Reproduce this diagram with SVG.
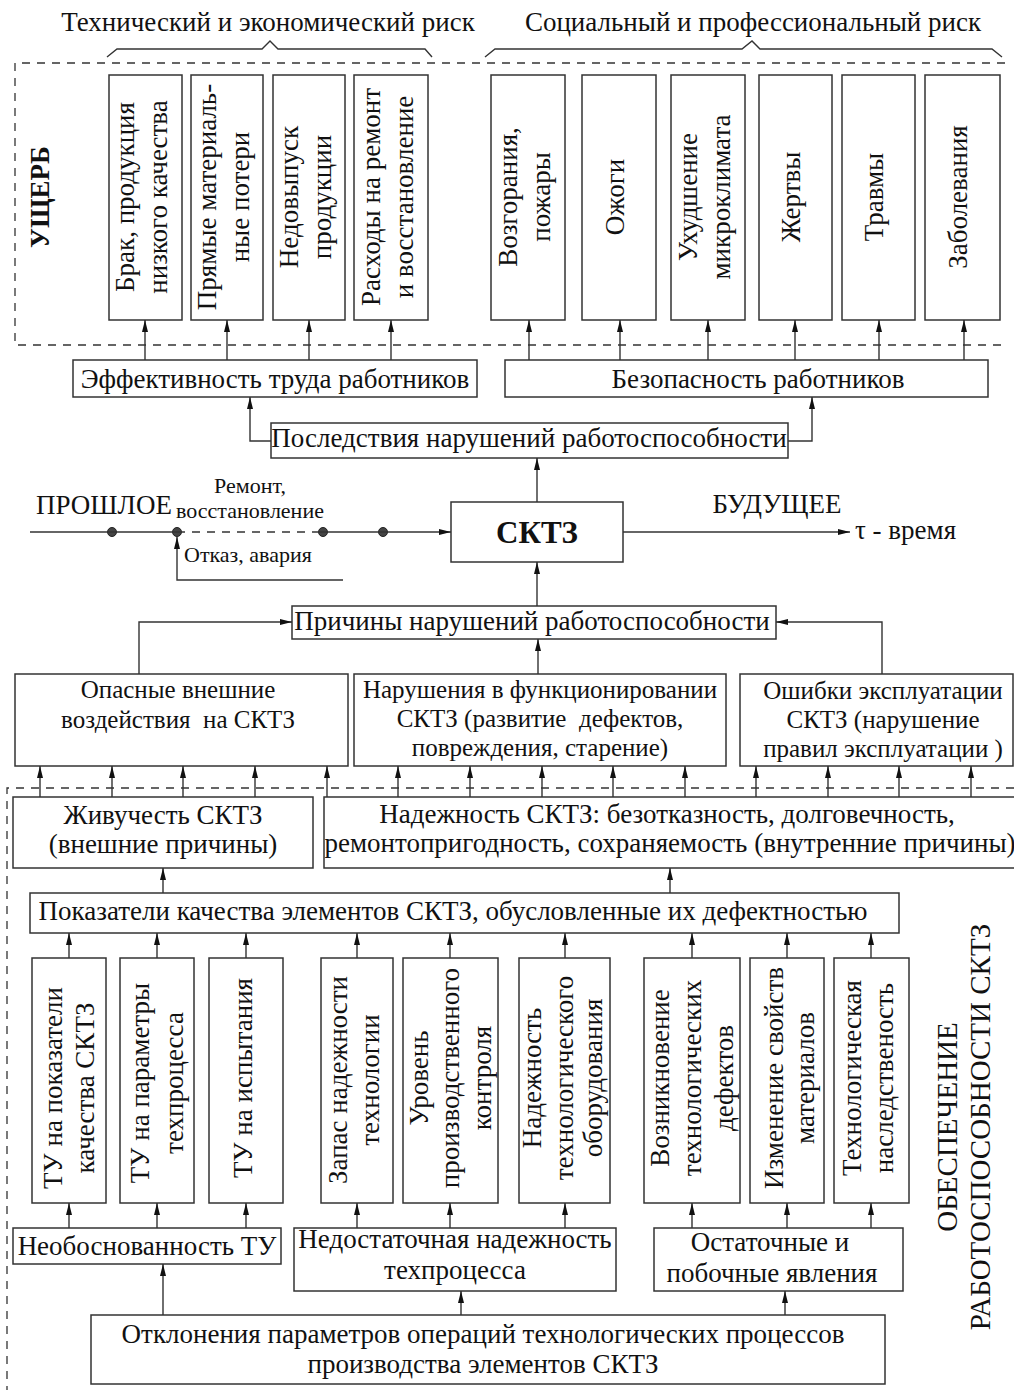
<svg xmlns="http://www.w3.org/2000/svg" width="1014" height="1390" viewBox="0 0 1014 1390">
<defs>
<marker id="ah" markerUnits="userSpaceOnUse" markerWidth="12" markerHeight="6" refX="12" refY="3" orient="auto">
<path d="M0,0 L12,3 L0,6 z" fill="#111"/>
</marker>
<style>
text{font-family:"Liberation Serif","Times New Roman",serif;font-size:27px;fill:#111}
.s{font-size:22px}
.mid{font-size:25px}
.b{font-weight:bold}
.m{text-anchor:middle}
.box{fill:#fff;stroke:#333;stroke-width:1.5}
.ln{fill:none;stroke:#333;stroke-width:1.4}
.ar{fill:none;stroke:#333;stroke-width:1.4;marker-end:url(#ah)}
.dash{fill:none;stroke:#333;stroke-width:1.3;stroke-dasharray:8 7}
</style>
</defs>
<rect width="1014" height="1390" fill="#fff"/>

<g id="frames">
<path class="dash" d="M1005,63 H15 V345 H1005"/>
<path class="dash" d="M1014,788 H7 V1390"/>
</g>

<g id="headers">
<text class="m" x="268" y="31">Технический и экономический риск</text>
<text class="m" x="753" y="31">Социальный и профессиональный риск</text>
<polyline class="ln" points="107,57 117,49 262,49 270,41 278,49 425,49 432,57"/>
<polyline class="ln" points="485,57 495,49 742,49 752,41 760,49 992,49 1002,57"/>
<text class="b m" transform="translate(40,197) rotate(-90)" x="0" y="9">УЩЕРБ</text>
</g>

<g id="n_brak"><rect class="box" x="109" y="75" width="73" height="245"/>
<text class="m" transform="translate(145,197) rotate(-90)"><tspan x="0" y="-11">Брак, продукция</tspan><tspan x="0" y="22">низкого качества</tspan></text></g>
<g id="n_pryamye"><rect class="box" x="191" y="75" width="72" height="245"/>
<text class="m" transform="translate(227,197) rotate(-90)"><tspan x="0" y="-11">Прямые материаль-</tspan><tspan x="0" y="22">ные потери</tspan></text></g>
<g id="n_nedovypusk"><rect class="box" x="273" y="75" width="72" height="245"/>
<text class="m" transform="translate(309,197) rotate(-90)"><tspan x="0" y="-11">Недовыпуск</tspan><tspan x="0" y="22">продукции</tspan></text></g>
<g id="n_rashody"><rect class="box" x="354" y="75" width="74" height="245"/>
<text class="m" transform="translate(391,197) rotate(-90)"><tspan x="0" y="-11">Расходы на ремонт</tspan><tspan x="0" y="22">и восстановление</tspan></text></g>
<g id="n_vozgoraniya"><rect class="box" x="491" y="75" width="74" height="245"/>
<text class="m" transform="translate(528,197) rotate(-90)"><tspan x="0" y="-11">Возгорания,</tspan><tspan x="0" y="22">пожары</tspan></text></g>
<g id="n_ozhogi"><rect class="box" x="582" y="75" width="74" height="245"/>
<text class="m" transform="translate(619,197) rotate(-90)" x="0" y="5">Ожоги</text></g>
<g id="n_uhudshenie"><rect class="box" x="671" y="75" width="74" height="245"/>
<text class="m" transform="translate(708,197) rotate(-90)"><tspan x="0" y="-11">Ухудшение</tspan><tspan x="0" y="22">микроклимата</tspan></text></g>
<g id="n_zhertvy"><rect class="box" x="759" y="75" width="73" height="245"/>
<text class="m" transform="translate(795,197) rotate(-90)" x="0" y="5">Жертвы</text></g>
<g id="n_travmy"><rect class="box" x="842" y="75" width="73" height="245"/>
<text class="m" transform="translate(878,197) rotate(-90)" x="0" y="5">Травмы</text></g>
<g id="n_zabolevaniya"><rect class="box" x="925" y="75" width="75" height="245"/>
<text class="m" transform="translate(962,197) rotate(-90)" x="0" y="5">Заболевания</text></g>

<g id="n_effektivnost"><rect class="box" x="73" y="360" width="404" height="37"/>
<text class="m" x="275" y="388">Эффективность труда работников</text></g>
<g id="n_bezopasnost"><rect class="box" x="505" y="360" width="483" height="37"/>
<text class="m" x="758" y="388">Безопасность работников</text></g>
<g id="n_posledstviya"><rect class="box" x="271" y="423" width="517" height="35"/>
<text class="m" x="529" y="447">Последствия нарушений работоспособности</text></g>

<g id="timeline">
<text x="36" y="514">ПРОШЛОЕ</text>
<text class="s m" x="250" y="493">Ремонт,</text>
<text class="s m" x="250" y="518">восстановление</text>
<text class="s" x="184" y="562">Отказ, авария</text>
<text class="m" x="777" y="513">БУДУЩЕЕ</text>
<text x="855" y="539">τ - время</text>
<circle cx="112" cy="532" r="4.5" fill="#444" stroke="#222"/>
<circle cx="177" cy="532" r="4.5" fill="#444" stroke="#222"/>
<circle cx="323" cy="532" r="4.5" fill="#444" stroke="#222"/>
<circle cx="383" cy="532" r="4.5" fill="#444" stroke="#222"/>
</g>

<g id="n_sktz"><rect class="box" x="451" y="502" width="172" height="60"/>
<text class="b m" x="537" y="543" style="font-size:31px">СКТЗ</text></g>

<g id="n_prichiny"><rect class="box" x="292" y="606" width="484" height="33"/>
<text class="m" x="532" y="630">Причины нарушений работоспособности</text></g>

<g id="n_opasnye"><rect class="box" x="15" y="674" width="333" height="92"/>
<text class="m mid" style="white-space:pre"><tspan x="178" y="698">Опасные внешние</tspan><tspan x="178" y="728">воздействия  на СКТЗ</tspan></text></g>
<g id="n_narusheniya"><rect class="box" x="354" y="674" width="372" height="92"/>
<text class="m mid" style="white-space:pre"><tspan x="540" y="698">Нарушения в функционировании</tspan><tspan x="540" y="727">СКТЗ (развитие  дефектов,</tspan><tspan x="540" y="756">повреждения, старение)</tspan></text></g>
<g id="n_oshibki"><rect class="box" x="740" y="674" width="273" height="92"/>
<text class="m mid"><tspan x="883" y="699">Ошибки эксплуатации</tspan><tspan x="883" y="728">СКТЗ (нарушение</tspan><tspan x="883" y="757">правил эксплуатации )</tspan></text></g>

<g id="n_zhivuchest"><rect class="box" x="13" y="797" width="300" height="71"/>
<text class="m"><tspan x="163" y="824">Живучесть СКТЗ</tspan><tspan x="163" y="853">(внешние причины)</tspan></text></g>
<g id="n_nadezhnost"><path class="box" d="M1016,797 H324 V868 H1016"/>
<text class="m"><tspan x="667" y="823">Надежность СКТЗ: безотказность, долговечность,</tspan><tspan x="670" y="852">ремонтопригодность, сохраняемость (внутренние причины)</tspan></text></g>

<g id="n_pokazateli"><rect class="box" x="30" y="893" width="869" height="40"/>
<text class="m" x="453" y="920">Показатели качества элементов СКТЗ, обусловленные их дефектностью</text></g>

<g id="n_tu1"><rect class="box" x="32" y="958" width="74" height="245"/>
<text class="m" transform="translate(69,1088) rotate(-90)"><tspan x="0" y="-7">ТУ на показатели</tspan><tspan x="0" y="25">качества СКТЗ</tspan></text></g>
<g id="n_tu2"><rect class="box" x="120" y="958" width="74" height="245"/>
<text class="m" transform="translate(157,1083) rotate(-90)"><tspan x="0" y="-8">ТУ на параметры</tspan><tspan x="0" y="26">техпроцесса</tspan></text></g>
<g id="n_tu3"><rect class="box" x="209" y="958" width="74" height="245"/>
<text class="m" transform="translate(246,1078) rotate(-90)" x="0" y="6">ТУ на испытания</text></g>
<g id="n_zapas"><rect class="box" x="321" y="958" width="72" height="245"/>
<text class="m" transform="translate(357,1080) rotate(-90)"><tspan x="0" y="-10">Запас надежности</tspan><tspan x="0" y="22">технологии</tspan></text></g>
<g id="n_uroven"><rect class="box" x="403" y="958" width="95" height="245"/>
<text class="m" transform="translate(450,1078) rotate(-90)"><tspan x="0" y="-22">Уровень</tspan><tspan x="0" y="9">производственного</tspan><tspan x="0" y="41">контроля</tspan></text></g>
<g id="n_oborud"><rect class="box" x="519" y="958" width="91" height="245"/>
<text class="m" transform="translate(565,1078) rotate(-90)"><tspan x="0" y="-24">Надежность</tspan><tspan x="0" y="8">технологического</tspan><tspan x="0" y="37">оборудования</tspan></text></g>
<g id="n_vozniknovenie"><rect class="box" x="644" y="958" width="96" height="245"/>
<text class="m" transform="translate(692,1078) rotate(-90)"><tspan x="0" y="-23">Возникновение</tspan><tspan x="0" y="9">технологических</tspan><tspan x="0" y="41">дефектов</tspan></text></g>
<g id="n_izmenenie"><rect class="box" x="750" y="958" width="74" height="245"/>
<text class="m" transform="translate(787,1078) rotate(-90)"><tspan x="0" y="-4">Изменение свойств</tspan><tspan x="0" y="27">материалов</tspan></text></g>
<g id="n_nasled"><rect class="box" x="834" y="958" width="75" height="245"/>
<text class="m" transform="translate(871,1078) rotate(-90)"><tspan x="0" y="-10">Технологическая</tspan><tspan x="0" y="22">наследственость</tspan></text></g>

<g id="n_obespechenie">
<text class="m" transform="translate(964,1127) rotate(-90)" style="font-size:29px"><tspan x="0" y="-7">ОБЕСПЕЧЕНИЕ</tspan><tspan x="0" y="26">РАБОТОСПОСОБНОСТИ СКТЗ</tspan></text></g>

<g id="n_neobosn"><rect class="box" x="13" y="1228" width="268" height="36"/>
<text class="m" x="147" y="1255">Необоснованность ТУ</text></g>
<g id="n_nedostat"><rect class="box" x="294" y="1228" width="322" height="63"/>
<text class="m"><tspan x="455" y="1248">Недостаточная надежность</tspan><tspan x="455" y="1279">техпроцесса</tspan></text></g>
<g id="n_ostat"><rect class="box" x="654" y="1228" width="249" height="63"/>
<text class="m"><tspan x="770" y="1251">Остаточные и</tspan><tspan x="772" y="1282">побочные явления</tspan></text></g>
<g id="n_otkloneniya"><rect class="box" x="91" y="1315" width="794" height="69"/>
<text class="m"><tspan x="483" y="1343">Отклонения параметров операций технологических процессов</tspan><tspan x="483" y="1373">производства элементов СКТЗ</tspan></text></g>

<g id="connectors">
<path class="ar" d="M145,360 V320"/><path class="ar" d="M227,360 V320"/><path class="ar" d="M309,360 V320"/><path class="ar" d="M391,360 V320"/>
<path class="ar" d="M529,360 V320"/><path class="ar" d="M620,360 V320"/><path class="ar" d="M708,360 V320"/><path class="ar" d="M795,360 V320"/><path class="ar" d="M879,360 V320"/><path class="ar" d="M964,360 V320"/>
<path class="ar" d="M271,441 H250 V397"/>
<path class="ar" d="M788,441 H812 V397"/>
<path class="ar" d="M537,502 V458"/>
<path class="ln" d="M30,532 H177"/>
<path class="ln" d="M177,532 H320" stroke-dasharray="8 7"/>
<path class="ar" d="M320,532 H451"/>
<path class="ar" d="M623,532 H850"/>
<path class="ar" d="M343,580 H177 V537"/>
<path class="ar" d="M537,606 V562"/>
<path class="ar" d="M538,674 V639"/>
<path class="ar" d="M139,674 V622 H292"/>
<path class="ar" d="M882,674 V622 H776"/>
<path class="ar" d="M40,797 V766"/><path class="ar" d="M112,797 V766"/><path class="ar" d="M183,797 V766"/><path class="ar" d="M255,797 V766"/><path class="ar" d="M327,797 V766"/>
<path class="ar" d="M398,797 V766"/><path class="ar" d="M470,797 V766"/><path class="ar" d="M542,797 V766"/><path class="ar" d="M613,797 V766"/><path class="ar" d="M685,797 V766"/>
<path class="ar" d="M756,797 V766"/><path class="ar" d="M828,797 V766"/><path class="ar" d="M899,797 V766"/><path class="ar" d="M971,797 V766"/>
<path class="ar" d="M163,893 V868"/>
<path class="ar" d="M670,893 V868"/>
<path class="ar" d="M69,958 V933"/><path class="ar" d="M157,958 V933"/><path class="ar" d="M246,958 V933"/><path class="ar" d="M357,958 V933"/><path class="ar" d="M450,958 V933"/><path class="ar" d="M565,958 V933"/><path class="ar" d="M692,958 V933"/><path class="ar" d="M787,958 V933"/><path class="ar" d="M871,958 V933"/>
<path class="ar" d="M69,1228 V1203"/><path class="ar" d="M157,1228 V1203"/><path class="ar" d="M246,1228 V1203"/>
<path class="ar" d="M357,1228 V1203"/><path class="ar" d="M450,1228 V1203"/><path class="ar" d="M565,1228 V1203"/>
<path class="ar" d="M692,1228 V1203"/><path class="ar" d="M787,1228 V1203"/><path class="ar" d="M871,1228 V1203"/>
<path class="ar" d="M163,1315 V1264"/>
<path class="ar" d="M461,1315 V1291"/>
<path class="ar" d="M785,1315 V1291"/>
</g>
</svg>
